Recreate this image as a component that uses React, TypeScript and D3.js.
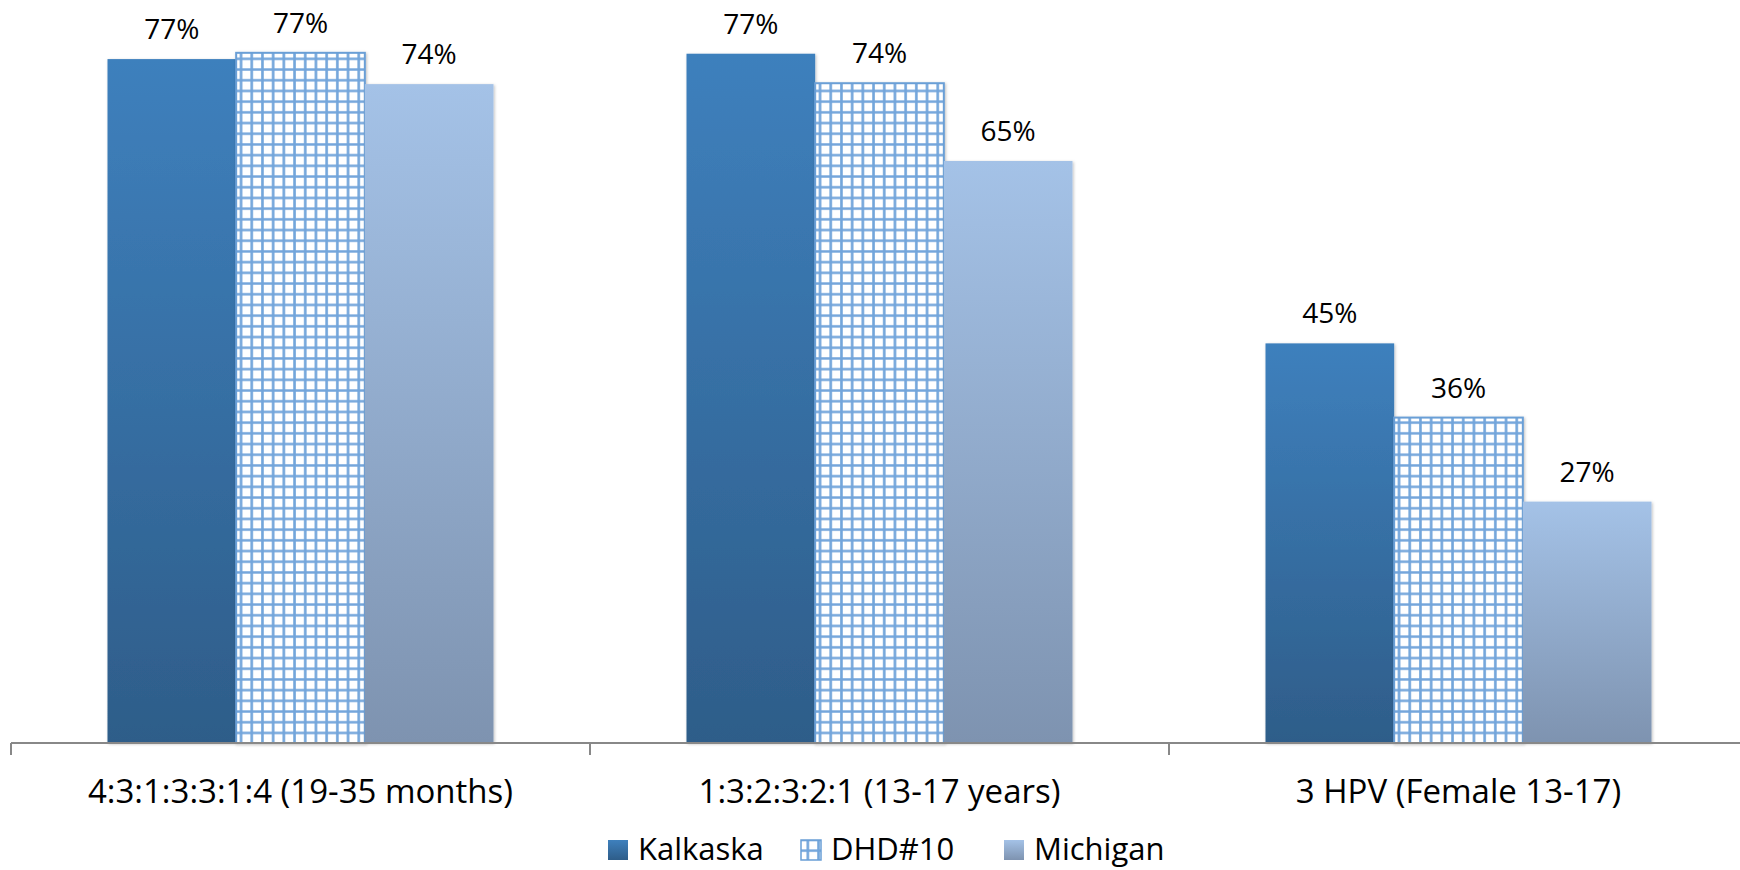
import * as d3 from "d3";
import React from "react";

const categories = [
  "4:3:1:3:3:1:4 (19-35 months)",
  "1:3:2:3:2:1 (13-17 years)",
  "3 HPV (Female 13-17)",
];
const seriesNames = ["Kalkaska", "DHD#10", "Michigan"];
const kalkaska = [76.5, 77.1, 44.7];
const dhd10 = [77.2, 73.8, 36.4];
const michigan = [73.7, 65.1, 27.0];
const labels = [
  ["77%", "77%", "74%"],
  ["77%", "74%", "65%"],
  ["45%", "36%", "27%"],
];

const W = 1740;
const H = 870;
const FONT = "'Open Sans', 'Noto Sans', sans-serif";

export default function App() {
  const axisY = 743;
  const bandW = 579;
  const x = d3
    .scaleBand()
    .domain(categories)
    .range([11, 11 + bandW * categories.length]);
  const barW = bandW / 4.5;
  const sub = d3
    .scaleBand()
    .domain(seriesNames)
    .range([(bandW - 3 * barW) / 2, (bandW + 3 * barW) / 2]);
  const y = d3.scaleLinear().domain([0, 80]).range([axisY, axisY - 80 * 8.94]);

  const series = [kalkaska, dhd10, michigan];
  const fills = ["url(#gKal)", "url(#grid)", "url(#gMich)"];

  return (
    <svg
      width={W}
      height={H}
      style={{ position: "absolute", left: 0, top: 0, background: "#fff" }}
    >
      <defs>
        <linearGradient id="gKal" x1="0" y1="0" x2="0" y2="1">
          <stop offset="0" stopColor="#3E80BD" />
          <stop offset="1" stopColor="#2E5D89" />
        </linearGradient>
        <linearGradient id="gMich" x1="0" y1="0" x2="0" y2="1">
          <stop offset="0" stopColor="#A4C2E7" />
          <stop offset="1" stopColor="#7E93B0" />
        </linearGradient>
        <pattern id="grid" width="10.7" height="10.7" patternUnits="userSpaceOnUse">
          <rect width="10.7" height="10.7" fill="#fff" />
          <path d="M0,5.35 H10.7 M5.35,0 V10.7" stroke="#72A5DB" strokeWidth="2.6" fill="none" />
        </pattern>
        <filter id="shadow" x="-10%" y="-5%" width="120%" height="110%">
          <feDropShadow dx="1" dy="1" stdDeviation="1.5" floodColor="#000" floodOpacity="0.25" />
        </filter>
      </defs>

      {categories.map((cat, ci) => (
        <g key={cat} transform={`translate(${x(cat)},0)`}>
          {seriesNames.map((s, si) => {
            const v = series[si][ci];
            const bx = sub(s) || 0;
            return (
              <g key={s}>
                <rect
                  x={bx}
                  y={y(v)}
                  width={barW}
                  height={axisY - y(v)}
                  fill={fills[si]}
                  stroke={si === 1 ? "#6A9FD6" : "none"}
                  strokeWidth={si === 1 ? 2 : 0}
                  filter="url(#shadow)"
                />
                <text
                  x={bx + barW / 2}
                  y={y(v) - 20}
                  textAnchor="middle"
                  fontFamily={FONT}
                  fontSize={28}
                  fill="#000"
                >
                  {labels[ci][si]}
                </text>
              </g>
            );
          })}
          <text
            x={bandW / 2}
            y={803}
            textAnchor="middle"
            fontFamily={FONT}
            fontSize={33}
            fill="#000"
          >
            {cat}
          </text>
        </g>
      ))}

      <line x1={11} x2={W} y1={axisY} y2={axisY} stroke="#888" strokeWidth={2} />
      {[0, 1, 2, 3].map((i) => {
        const tx = 11 + i * bandW;
        return <line key={i} x1={tx} x2={tx} y1={axisY} y2={axisY + 12} stroke="#888" strokeWidth={2} />;
      })}

      {seriesNames.map((s, si) => {
        const lx = [608, 801, 1004][si];
        return (
          <g key={s}>
            <rect
              x={lx}
              y={840}
              width={20}
              height={20}
              fill={fills[si]}
              stroke={si === 1 ? "#6A9FD6" : "none"}
              strokeWidth={si === 1 ? 1.5 : 0}
            />
            <text x={lx + 30} y={860} fontFamily={FONT} fontSize={31} fill="#000">
              {s}
            </text>
          </g>
        );
      })}
    </svg>
  );
}
